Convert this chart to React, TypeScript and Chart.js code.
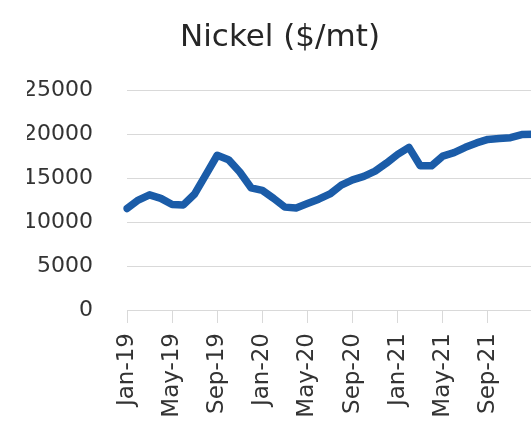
import React, { useEffect, useRef } from "react";
import { Chart, registerables } from "chart.js";

Chart.register(...registerables);

// Monthly nickel price, Jan-19 onwards
const months: string[] = [
  "Jan-19", "Feb-19", "Mar-19", "Apr-19", "May-19", "Jun-19",
  "Jul-19", "Aug-19", "Sep-19", "Oct-19", "Nov-19", "Dec-19",
  "Jan-20", "Feb-20", "Mar-20", "Apr-20", "May-20", "Jun-20",
  "Jul-20", "Aug-20", "Sep-20", "Oct-20", "Nov-20", "Dec-20",
  "Jan-21", "Feb-21", "Mar-21", "Apr-21", "May-21", "Jun-21",
  "Jul-21", "Aug-21", "Sep-21", "Oct-21", "Nov-21", "Dec-21",
  "Jan-22",
];

const nickelPrice: number[] = [
  11550, 12500, 13100, 12700, 12000, 11950,
  13200, 15400, 17600, 17100, 15700, 13900,
  13600, 12700, 11700, 11600, 12100, 12600,
  13200, 14200, 14800, 15200, 15800, 16700,
  17700, 18500, 16400, 16400, 17500, 17900,
  18500, 19000, 19400, 19500, 19600, 19950,
  20000,
];

const yTicks: number[] = [0, 5000, 10000, 15000, 20000, 25000];

const FAMILY = "'DejaVu Sans', sans-serif";
const GRID = "#d9d9d9";

export default function App() {
  const canvasRef = useRef<HTMLCanvasElement | null>(null);

  useEffect(() => {
    document.body.style.margin = "0";
    const canvas = canvasRef.current;
    if (!canvas) return;

    const chart = new Chart(canvas, {
      type: "line",
      data: {
        labels: months,
        datasets: [
          {
            label: "Nickel",
            data: nickelPrice,
            borderColor: "#1b5ca8",
            backgroundColor: "#1b5ca8",
            borderWidth: 7.5,
            borderJoinStyle: "round",
            borderCapStyle: "round",
            pointRadius: 0,
            tension: 0,
          },
        ],
      },
      options: {
        responsive: false,
        animation: false,
        devicePixelRatio: 1,
        layout: { padding: { left: 27, right: 0, top: 0, bottom: 0 } },
        plugins: {
          legend: { display: false },
          tooltip: { enabled: false },
          title: {
            display: true,
            text: "Nickel ($/mt)",
            color: "#262626",
            font: { family: FAMILY, size: 31, weight: "normal" },
            padding: { top: 19, bottom: 34 },
          },
        },
        scales: {
          x: {
            type: "category",
            grid: {
              drawOnChartArea: false,
              drawTicks: true,
              tickLength: 13,
              color: GRID,
            },
            border: { display: true, color: GRID },
            ticks: {
              autoSkip: false,
              minRotation: 90,
              maxRotation: 90,
              padding: 10,
              color: "#333333",
              font: { family: FAMILY, size: 23 },
              callback: (_v: any, idx: number) =>
                idx % 4 === 0 && idx < 36 ? months[idx] : null,
            },
            afterFit: (scale: any) => {
              scale.height = 111;
            },
          },
          y: {
            min: yTicks[0],
            max: yTicks[yTicks.length - 1],
            grid: { drawTicks: false, color: GRID, lineWidth: 1 },
            border: { display: false },
            afterBuildTicks: (scale: any) => {
              scale.ticks = yTicks.map((v) => ({ value: v }));
            },
            ticks: {
              padding: 34,
              color: "#333333",
              font: { family: FAMILY, size: 22 },
              callback: (v: any) => String(v),
            },
            afterFit: (scale: any) => {
              scale.width = 100;
            },
          },
        },
      },
    });

    return () => chart.destroy();
  }, []);

  return (
    <div style={{ width: 531, height: 421, overflow: "hidden", position: "relative", background: "#fff" }}>
      <canvas ref={canvasRef} width={533} height={421} style={{ display: "block" }} />
    </div>
  );
}
